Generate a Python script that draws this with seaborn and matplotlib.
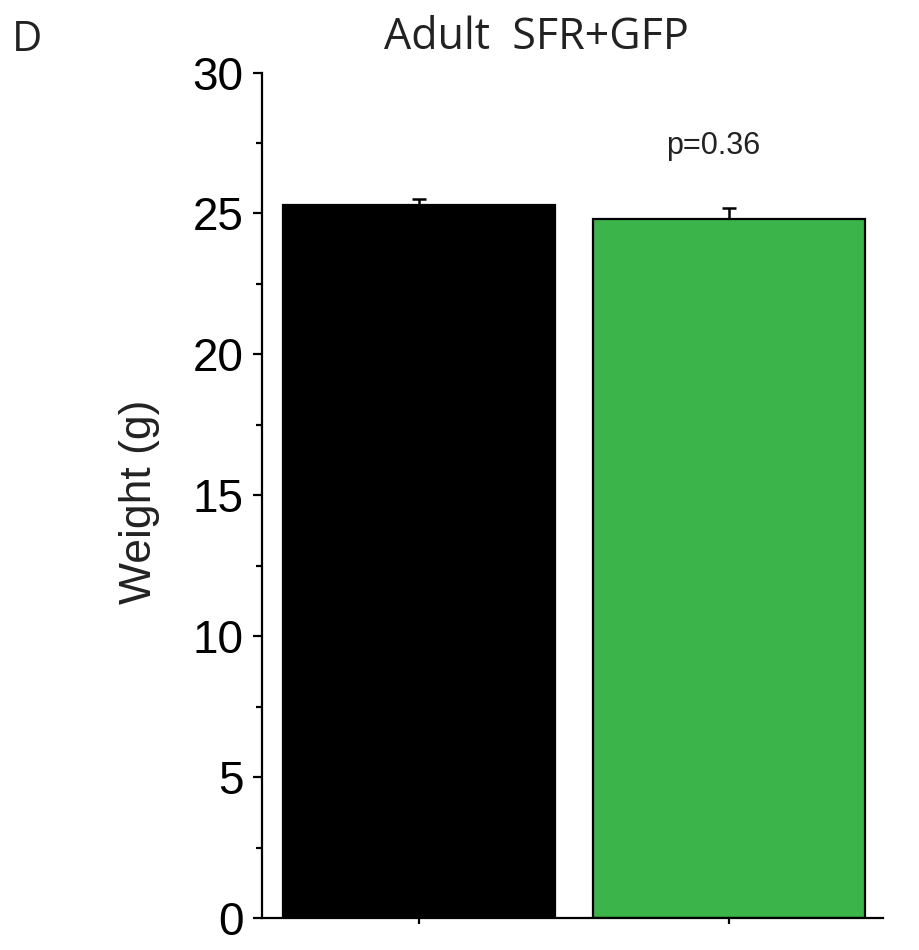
import numpy as np
import pandas as pd
import matplotlib
matplotlib.use("Agg")
import matplotlib.pyplot as plt
from matplotlib.ticker import MultipleLocator
import seaborn as sns

# Body weight of adult mice, SFR control vs GFP group
groups = ["SFR", "GFP"]
weights = [25.3, 24.8]
sem = [0.2, 0.38]
bar_colors = ["#000000", "#3bb54a"]
p_label = "p=0.36"

sns.set_theme(style="white")
plt.rcParams["font.family"] = ["Liberation Sans", "DejaVu Sans"]

W, H = 919, 950
fig = plt.figure(figsize=(W / 100, H / 100), dpi=100)
ax = fig.add_axes([262 / W, 1 - 918 / H, (883 - 262) / W, (918 - 72.5) / H])

df = pd.DataFrame({"group": groups, "weight": weights})
sns.barplot(data=df, x="group", y="weight", hue="group", palette=bar_colors,
            saturation=1, width=0.877, errorbar=None, legend=False, ax=ax,
            edgecolor="black", linewidth=1.6)

# upward-only SEM bars: keep only the upper cap
_, caps, _ = ax.errorbar(np.arange(len(groups)), weights,
                         yerr=[np.zeros(len(sem)), sem], fmt="none",
                         ecolor="black", elinewidth=1.8, capsize=5,
                         capthick=1.8, zorder=5)
caps[0].set_visible(False)

ax.set_xlim(-0.506, 1.497)
ax.set_ylim(0, 30)
ax.yaxis.set_major_locator(MultipleLocator(5))
ax.yaxis.set_minor_locator(MultipleLocator(2.5))
ax.set_xticks([0, 1])
ax.set_xticklabels([])
ax.set_xlabel("")
ax.set_ylabel("")

for side in ["top", "right"]:
    ax.spines[side].set_visible(False)
for side in ["left", "bottom"]:
    ax.spines[side].set_color("black")
    ax.spines[side].set_linewidth(1.6)

ax.tick_params(axis="y", which="major", direction="out", length=6.5, width=1.6,
               color="black", labelsize=33, pad=7, left=True, labelcolor="black")
ax.tick_params(axis="y", which="minor", direction="out", length=4.3, width=1.6,
               color="black", left=True)
ax.tick_params(axis="x", which="major", direction="out", length=4, width=1.6,
               color="black", bottom=True)

ax.text(1 - 0.05, 27.4, p_label, ha="center", va="center", fontsize=22,
        color="#222222")

fig.text(536 / W, 1 - 38 / H, "Adult  SFR+GFP", ha="center", va="center",
         fontsize=31, family=["Open Sans", "DejaVu Sans"], color="#222222")
fig.text(27 / W, 1 - 40 / H, "D", ha="center", va="center",
         fontsize=30, family=["Open Sans", "DejaVu Sans"], color="#222222")
fig.text(140 / W, 1 - 502 / H, "Weight (g)", ha="center", va="center",
         rotation=90, fontsize=32, color="#222222")

fig.savefig("out.png", dpi=100)
